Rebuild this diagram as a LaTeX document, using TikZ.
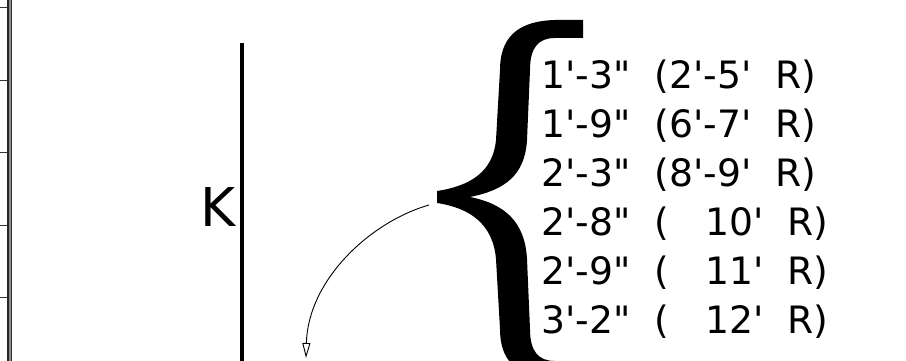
\documentclass[tikz,border=0pt]{standalone}
\usetikzlibrary{arrows.meta}
\font\rowfont="DejaVu Sans" at 37.7pt
\font\kfont="DejaVu Sans" at 53.5pt
\begin{document}
\begin{tikzpicture}[x=1pt,y=-1pt,
  rowtext/.style={anchor=base west,inner sep=0pt,font=\rowfont},
  tick/.style={draw=black!80,line width=1pt},
  bracefill/.style={fill=black},
  arrowline/.style={line width=0.9pt,-{Triangle[open,length=15pt,width=8pt]}}]
\useasboundingbox (0,0) rectangle (906,361);
% left ruler
\fill[black!45] (8,0) rectangle (11.5,361);
\draw[line width=2pt,black!85] (8,0) -- (8,361);
\draw[line width=1.5pt,black!80] (11.5,0) -- (11.5,361);
\foreach \yy in {8,80.5,152.5,225,297}{\draw[tick] (0,\yy) -- (7,\yy);}
% vertical line and K
\coordinate (vtop) at (242,43);
\coordinate (vbot) at (242,361);
\draw[line width=4pt] (vtop) -- (vbot);
\node[anchor=base west,inner sep=0pt,font=\kfont] (K) at (200,226) {K};
% brace
\fill[bracefill] (437,191)
  .. controls (470,186) and (493,172) .. (496,140)
  -- (500,70)
  .. controls (500,40) and (515,21) .. (555,20)
  -- (583,20) -- (583,38) -- (555,38)
  .. controls (538,38) and (530,48) .. (530,70)
  -- (527,140)
  .. controls (525,175) and (505,190) .. (470,197)
  .. controls (505,204) and (525,222) .. (527,259)
  -- (530,329)
  .. controls (530,351) and (538,361) .. (555,361)
  -- (583,361) -- (583,379) -- (555,379)
  .. controls (515,378) and (500,359) .. (500,329)
  -- (496,259)
  .. controls (493,224) and (470,208) .. (437,203)
  -- cycle;
% rows
\node[rowtext] (r1) at (541,88.5) {1'-3"~~(2'-5'~~R)};
\node[rowtext] (r2) at (541,137.5) {1'-9"~~(6'-7'~~R)};
\node[rowtext] (r3) at (541,186.5) {2'-3"~~(8'-9'~~R)};
\node[rowtext] (r4) at (541,235.5) {2'-8"~~(~~~10'~~R)};
\node[rowtext] (r5) at (541,284.5) {2'-9"~~(~~~11'~~R)};
\node[rowtext] (r6) at (541,333.5) {3'-2"~~(~~~12'~~R)};
% arrow
\coordinate (astart) at (429,205);
\coordinate (aend) at (306,358);
\draw[arrowline] (astart) .. controls (370,222) and (308,280) .. (aend);
\end{tikzpicture}
\end{document}
